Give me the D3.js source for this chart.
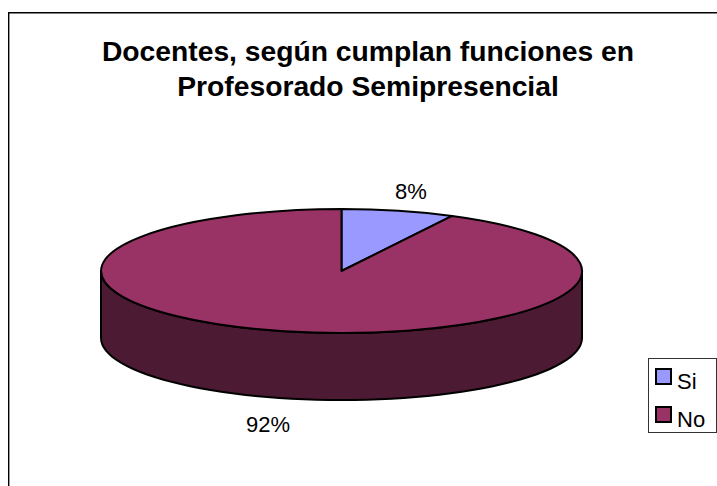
<!DOCTYPE html>
<html><head><meta charset="utf-8">
<script src="https://cdn.jsdelivr.net/npm/d3@7"></script>
<style>html,body{margin:0;padding:0;background:#fff}svg{display:block}text{font-family:"Liberation Sans",Arial,sans-serif;fill:#000}</style>
</head><body><script>
const categories = ["Si", "No"];
const values = [7.6, 92.4];
const valueLabels = ["8%", "92%"];
const titleLines = ["Docentes, según cumplan funciones en", "Profesorado Semipresencial"];
const colors = ["#9999ff", "#993366"];
const sideColor = "#4d1a33";

const W = 717, H = 486, cx = 341.5, cy = 271, rx = 240.5, ry = 62, depth = 67;
const svg = d3.select("body").append("svg").attr("width", W).attr("height", H);
svg.append("path").attr("d", `M8.7,${H}V12.7H${W}`)
  .attr("fill", "none").attr("stroke", "#000").attr("stroke-width", 1.4);

svg.selectAll("text.title").data(titleLines).join("text").attr("class", "title")
  .attr("x", 368).attr("y", (d, i) => 60.5 + i * 35.5).attr("text-anchor", "middle")
  .attr("font-size", 28.25).attr("font-weight", "bold").text(d => d);

const arcs = d3.pie().sort(null)(values);
const arc = d3.arc().innerRadius(0).outerRadius(1);
const steps = d3.range(0, 181, 3).map(a => a * Math.PI / 180);
const wall = d3.line()
  .x(a => cx - rx * Math.cos(a))
  .y(a => cy + depth + ry * Math.sin(a));
const wallTop = d3.line()
  .x(a => cx + rx * Math.cos(a))
  .y(a => cy + ry * Math.sin(a));
svg.append("path")
  .attr("d", wall(steps) + "L" + wallTop(steps).slice(1) + "Z")
  .attr("fill", sideColor).attr("stroke", "#000").attr("stroke-width", 2).attr("stroke-linejoin", "round");

const g = svg.append("g").attr("transform", `translate(${cx},${cy}) scale(${rx},${ry})`);
g.selectAll("path").data(arcs).join("path").attr("d", arc)
  .attr("fill", (d, i) => colors[i]).attr("stroke", "#000").attr("stroke-width", 2)
  .attr("vector-effect", "non-scaling-stroke").attr("stroke-linejoin", "round");

const labelPos = [[411, 199], [268, 432]];
svg.selectAll("text.val").data(valueLabels).join("text").attr("class", "val")
  .attr("x", (d, i) => labelPos[i][0]).attr("y", (d, i) => labelPos[i][1])
  .attr("text-anchor", "middle").attr("font-size", 22).text(d => d);

const lg = svg.append("g");
lg.append("rect").attr("x", 648.5).attr("y", 358.5).attr("width", 68).attr("height", 74)
  .attr("fill", "#fff").attr("stroke", "#333").attr("stroke-width", 1);
const rowY = d3.scalePoint().domain(categories).range([376, 414]);
lg.selectAll("rect.k").data(categories).join("rect").attr("class", "k")
  .attr("x", 656).attr("y", d => rowY(d) - 7).attr("width", 15).attr("height", 15)
  .attr("fill", (d, i) => colors[i]).attr("stroke", "#000").attr("stroke-width", 2);
lg.selectAll("text").data(categories).join("text")
  .attr("x", 677).attr("y", d => rowY(d) + 12.5).attr("font-size", 22).text(d => d);
</script></body></html>
